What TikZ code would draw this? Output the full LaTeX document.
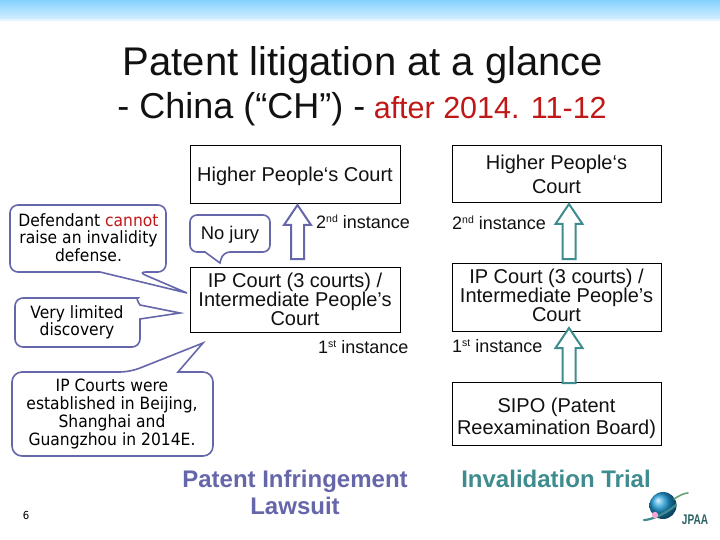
\documentclass[tikz,border=0pt]{standalone}
\usepackage{fontspec}
\setmainfont{Liberation Sans}
\newfontfamily\calloutfont{DejaVu Sans}[FakeStretch=0.92]
\usetikzlibrary{calc}
\definecolor{purp}{HTML}{6666AA}
\definecolor{tealc}{HTML}{3E8C8E}
\definecolor{redc}{HTML}{C01818}
\definecolor{topa}{HTML}{86D2FE}
\definecolor{topb}{HTML}{D2EEFF}
\definecolor{txt}{HTML}{111111}
\definecolor{ballc}{HTML}{1E9BD7}
\newcommand{\fsz}[1]{\fontsize{#1}{#1}\selectfont}
\newcommand{\fsl}[2]{\fontsize{#1}{#2}\selectfont}
\newcommand{\supr}[1]{\raisebox{6.5pt}{\fontsize{10.5}{10.5}\selectfont #1}}
\newcommand{\blockarrow}[3]{%
 \draw[#1,line width=2pt,fill=white,line join=miter]
  ($(#2)+(-6.5,0)$) -- ($(#3)+(-6.5,20)$) -- ($(#3)+(-13.5,20)$) -- (#3) -- ($(#3)+(13.5,20)$) -- ($(#3)+(6.5,20)$) -- ($(#2)+(6.5,0)$) -- cycle;}
\tikzset{
 courtbox/.style={draw=black,line width=0.8pt,fill=white,align=center,inner sep=0pt,text=txt,font=\fsz{20}},
 lbl/.style={text=txt,font=\fsz{18},inner sep=0pt,anchor=west},
 calltext/.style={text=black,align=center,inner sep=0pt,font=\calloutfont\fsl{16.9}{17.5}}
}
\begin{document}
\begin{tikzpicture}[x=1pt,y=-1pt]
\useasboundingbox (0,0) rectangle (720,540);
\fill[white] (0,0) rectangle (720,540);
\shade[top color=topa,bottom color=topb] (0,0) rectangle (720,19);
\fill[topb!60!white] (0,19) rectangle (720,21);
% titles
\node[text=txt,inner sep=0pt,font=\fsz{40}] (title) at (363,65) {Patent litigation at a glance};
\node[text=txt,inner sep=0pt,font=\fsz{30}] (sub) at (362,109) {\fsz{36}- China (“CH”) -\fsz{30.5} \textcolor{redc}{after 2014. 11-12}};
% left column
\node[courtbox,minimum width=210pt,minimum height=58pt] (hl) at (295,174) {\rule{0pt}{20pt}Higher People‘s Court};
\node[courtbox,minimum width=210pt,minimum height=65pt,font=\fsl{20}{19}] (il) at (295,299.5) {IP Court (3 courts) /\\Intermediate People’s\\Court};
\coordinate (la) at (297.5,259);
\coordinate (lb) at (297.5,205);
\blockarrow{purp}{la}{lb}
\node[lbl] (l2) at (316,222) {2\supr{nd} instance};
\node[lbl] (l1) at (318,347) {1\supr{st} instance};
% callouts
\draw[purp,line width=1.6pt,fill=white,rounded corners=8pt]
 (10,205) -- (166,205) -- (166,272) -- (138,272) [sharp corners] -- (187,293) -- (100,272) [rounded corners=8pt] -- (10,272) -- cycle;
\node[calltext] (c1) at (88.5,237.5) {Defendant \textcolor{redc}{cannot}\\raise an invalidity\\defense.};
\draw[purp,line width=1.6pt,fill=white,rounded corners=8pt]
 (15,298) -- (130,298) [sharp corners] .. controls (136,298) and (138,302) .. (140,305) -- (180,313) -- (140,319) [rounded corners=8pt] -- (140,347) -- (15,347) -- cycle;
\node[calltext] (c2) at (77,322.5) {Very limited\\discovery};
\draw[purp,line width=1.6pt,fill=white,rounded corners=7pt]
 (190,215) -- (270,215) -- (270,252) -- (223,252) [sharp corners] -- (220,263) -- (205,252) [rounded corners=7pt] -- (190,252) -- cycle;
\node[text=txt,inner sep=0pt,font=\fsz{18.4}] (c0) at (230,235) {No jury};
\draw[purp,line width=1.6pt,fill=white,rounded corners=10pt]
 (12,372) -- (130,372) [sharp corners] -- (203,343) -- (178,372) [rounded corners=10pt] -- (213,372) -- (213,456) -- (12,456) -- cycle;
\node[calltext,font=\calloutfont\fsl{16.9}{18}] (c3) at (112,414) {IP Courts were\\established in Beijing,\\Shanghai and\\Guangzhou in 2014E.};
% right column
\node[courtbox,minimum width=209pt,minimum height=57pt,font=\fsl{20}{24}] (hr) at (556.5,173.5) {\rule{0pt}{17pt}Higher People‘s\\Court};
\node[courtbox,minimum width=209pt,minimum height=68pt,font=\fsl{20}{19}] (ir) at (556.5,297) {IP Court (3 courts) /\\Intermediate People’s\\Court\rule[-4pt]{0pt}{1pt}};
\node[courtbox,minimum width=209pt,minimum height=63pt,font=\fsl{20}{22}] (sr) at (556.5,413.5) {\rule{0pt}{24pt}SIPO (Patent\\Reexamination Board)};
\coordinate (ra) at (569,259);
\coordinate (rb) at (569,204);
\coordinate (rc) at (569,383);
\coordinate (rd) at (569,328);
\blockarrow{tealc}{ra}{rb}
\blockarrow{tealc}{rc}{rd}
\node[lbl] (r2) at (452,223) {2\supr{nd} instance};
\node[lbl] (r1) at (452,346) {1\supr{st} instance};
% bottom
\node[text=purp,align=center,inner sep=0pt,font=\bfseries\fsl{24}{27}] (pl) at (295,492) {Patent Infringement\\Lawsuit};
\node[text=tealc,inner sep=0pt,font=\bfseries\fsz{24}] (it) at (556,479) {Invalidation Trial};
\node[text=black,inner sep=0pt,font=\calloutfont\fsz{11}] (pg) at (26,515) {6};
% logo
\shade[ball color=ballc] (663,505.5) circle (13.5);
\draw[tealc,line width=2.2pt,line cap=round] (644,520) .. controls (650,520) and (664,515) .. (676,505);
\draw[tealc!80!yellow,line width=1.6pt,line cap=round] (674,499) .. controls (680,495) and (685,493) .. (688,493);
\fill[magenta!35!white] (655,515) circle (3.2);
\node[text=tealc!70!black,inner sep=0pt,font=\bfseries\fsz{14},xscale=.72,transform shape] (jp) at (695,520) {JPAA};
\end{tikzpicture}
\end{document}
